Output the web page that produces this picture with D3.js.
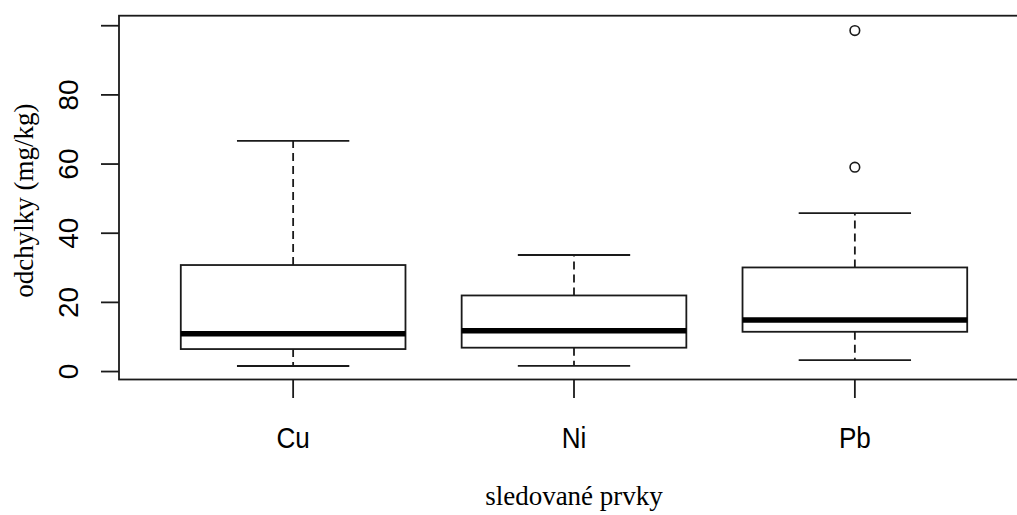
<!DOCTYPE html>
<html>
<head>
<meta charset="utf-8">
<script src="https://cdn.jsdelivr.net/npm/d3@7"></script>
<style>
body { margin: 0; background: #fff; }
</style>
</head>
<body>
<svg id="svg" width="1017" height="515"></svg>
<script>
// prvky a jejich statistiky boxplotu (dolni vous, Q1, median, Q3, horni vous)
var prvky = ["Cu", "Ni", "Pb"];
var dolni = [1.6, 1.65, 3.3];
var q1 = [6.5, 6.9, 11.5];
var median = [10.9, 11.8, 14.9];
var q3 = [30.8, 22.0, 30.1];
var horni = [66.7, 33.7, 45.8];
var odlehle = [[], [], [59.1, 98.6]];
var yTicks = [0, 20, 40, 60, 80, 100];
var yTickLabels = ["0", "20", "40", "60", "80", ""];

var svg = d3.select("#svg");
var ink = "#1a1a1a";
var lw = 1.8;

// rozsahy os jako v R (o 4 % rozsirene)
var x = d3.scaleLinear().domain([0.38, 3.62]).range([119, 1029]);
var y = d3.scaleLinear().domain([-2.3, 102.9]).range([379.5, 15.7]);

var data = prvky.map(function(p, i){
 return {name: p, pos: i + 1, lo: dolni[i], q1: q1[i], med: median[i], q3: q3[i], hi: horni[i], out: odlehle[i]};
});

var g = svg.selectAll(".box").data(data).enter().append("g").attr("class", "box");

// vousy - carkovane
g.append("line")
 .attr("x1", function(d){ return x(d.pos); })
 .attr("x2", function(d){ return x(d.pos); })
 .attr("y1", function(d){ return y(d.q3); })
 .attr("y2", function(d){ return y(d.hi); })
 .style("stroke", ink).style("stroke-width", lw).style("stroke-dasharray", "8,5");
g.append("line")
 .attr("x1", function(d){ return x(d.pos); })
 .attr("x2", function(d){ return x(d.pos); })
 .attr("y1", function(d){ return y(d.q1); })
 .attr("y2", function(d){ return y(d.lo); })
 .style("stroke", ink).style("stroke-width", lw).style("stroke-dasharray", "8,5");

// konce vousu
["hi", "lo"].forEach(function(k){
 g.append("line")
  .attr("x1", function(d){ return x(d.pos - 0.2); })
  .attr("x2", function(d){ return x(d.pos + 0.2); })
  .attr("y1", function(d){ return y(d[k]); })
  .attr("y2", function(d){ return y(d[k]); })
  .style("stroke", ink).style("stroke-width", lw);
});

// krabice
g.append("rect")
 .attr("x", function(d){ return x(d.pos - 0.4); })
 .attr("width", function(d){ return x(d.pos + 0.4) - x(d.pos - 0.4); })
 .attr("y", function(d){ return y(d.q3); })
 .attr("height", function(d){ return y(d.q1) - y(d.q3); })
 .style("fill", "#fff").style("stroke", ink).style("stroke-width", lw);

// median
g.append("line")
 .attr("x1", function(d){ return x(d.pos - 0.4); })
 .attr("x2", function(d){ return x(d.pos + 0.4); })
 .attr("y1", function(d){ return y(d.med); })
 .attr("y2", function(d){ return y(d.med); })
 .style("stroke", "#000").style("stroke-width", 5.5);

// odlehle hodnoty
g.selectAll("circle").data(function(d){ return d.out.map(function(v){ return {pos: d.pos, v: v}; }); })
 .enter().append("circle")
 .attr("cx", function(d){ return x(d.pos); })
 .attr("cy", function(d){ return y(d.v); })
 .attr("r", 4.8)
 .style("fill", "none").style("stroke", ink).style("stroke-width", 1.6);

// ramecek
svg.append("rect")
 .attr("x", x(0.38)).attr("y", y(102.9))
 .attr("width", x(3.62) - x(0.38)).attr("height", y(-2.3) - y(102.9))
 .style("fill", "none").style("stroke", ink).style("stroke-width", lw);

// osa y
var yAxis = svg.append("g");
yAxis.selectAll("line").data(yTicks).enter().append("line")
 .attr("x1", 101).attr("x2", 119)
 .attr("y1", function(d){ return y(d); })
 .attr("y2", function(d){ return y(d); })
 .style("stroke", ink).style("stroke-width", lw);
yAxis.selectAll("text").data(yTicks).enter().append("text")
 .attr("transform", function(d){ return "translate(78," + y(d) + ") rotate(-90)"; })
 .attr("text-anchor", "middle")
 .style("font-family", "'Liberation Sans', Arial, sans-serif")
 .style("font-size", "28px")
 .text(function(d, i){ return yTickLabels[i]; });

// osa x
var xAxis = svg.append("g");
xAxis.selectAll("line").data(data).enter().append("line")
 .attr("x1", function(d){ return x(d.pos); })
 .attr("x2", function(d){ return x(d.pos); })
 .attr("y1", 379.5).attr("y2", 398)
 .style("stroke", ink).style("stroke-width", lw);
xAxis.selectAll("text").data(data).enter().append("text")
 .attr("transform", function(d){ return "translate(" + x(d.pos) + ",448) scale(0.9,1)"; })
 .attr("text-anchor", "middle")
 .style("font-family", "'Liberation Sans', Arial, sans-serif")
 .style("font-size", "29px")
 .text(function(d){ return d.name; });

// popisky os
svg.append("text")
 .attr("x", (x(1) + x(3)) / 2).attr("y", 505)
 .attr("text-anchor", "middle")
 .style("font-family", "'Liberation Serif', 'Times New Roman', serif")
 .style("font-size", "27px")
 .text("sledované prvky");
svg.append("text")
 .attr("transform", "translate(33," + ((y(-2.3) + y(102.9)) / 2 + 3) + ") rotate(-90)")
 .attr("text-anchor", "middle")
 .style("font-family", "'Liberation Serif', 'Times New Roman', serif")
 .style("font-size", "27px")
 .text("odchylky (mg/kg)");
</script>
</body>
</html>
